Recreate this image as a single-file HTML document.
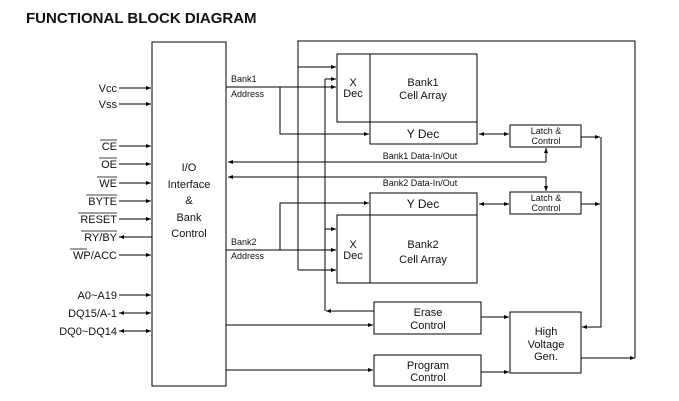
<!DOCTYPE html>
<html><head><style>
body{margin:0;background:#fff;width:679px;height:401px;overflow:hidden}
svg{display:block}
text{font-family:"Liberation Sans",Arial,sans-serif;fill:#111}
</style></head><body>
<svg width="679" height="401" viewBox="0 0 679 401" xmlns="http://www.w3.org/2000/svg">
<defs>
<marker id="a" viewBox="0 0 10 10" refX="10" refY="5" markerWidth="5" markerHeight="5" orient="auto-start-reverse"><path d="M0,1 L10,5 L0,9 z" fill="#000"/></marker>
</defs>
<text x="26" y="23" font-size="15" font-weight="bold">FUNCTIONAL BLOCK DIAGRAM</text>
<g fill="none" stroke="#000" stroke-width="1">
<rect x="152" y="42" width="74" height="344"/>
<rect x="337" y="54" width="33" height="68"/><rect x="370" y="54" width="107" height="68"/><rect x="370" y="122" width="107" height="22"/>
<rect x="370" y="193" width="107" height="22"/><rect x="337" y="215" width="33" height="68"/><rect x="370" y="215" width="107" height="68"/>
<rect x="510" y="125" width="71" height="22"/><rect x="510" y="192" width="71" height="22"/>
<rect x="374" y="302" width="107" height="32"/><rect x="374" y="355" width="107" height="31"/>
<rect x="510" y="312" width="71" height="61"/>
</g>
<g stroke="#000" stroke-width="1" fill="none" marker-end="url(#a)">
<line x1="119" y1="88" x2="151" y2="88"/><line x1="119" y1="104" x2="151" y2="104"/>
<line x1="119" y1="146" x2="151" y2="146"/><line x1="119" y1="164" x2="151" y2="164"/>
<line x1="119" y1="183" x2="151" y2="183"/><line x1="119" y1="201" x2="151" y2="201"/>
<line x1="119" y1="219" x2="151" y2="219"/><line x1="152" y1="237" x2="119" y2="237"/>
<line x1="119" y1="255" x2="151" y2="255"/><line x1="119" y1="295" x2="151" y2="295"/>
<line x1="119" y1="313" x2="151" y2="313" marker-start="url(#a)"/>
<line x1="119" y1="331" x2="151" y2="331" marker-start="url(#a)"/>
<line x1="226" y1="87" x2="336" y2="87"/>
<polyline points="280,87 280,134 369,134"/>
<line x1="298" y1="67" x2="336" y2="67"/>
<line x1="325" y1="79" x2="336" y2="79"/>
<line x1="479" y1="134" x2="509" y2="134" marker-start="url(#a)"/>
<line x1="581" y1="137" x2="600" y2="137"/>
<polyline points="546,162 228,162"/>
<line x1="546" y1="162" x2="546" y2="148"/>
<polyline points="228,177 546,177 546,191" marker-start="url(#a)"/>
<line x1="479" y1="204" x2="509" y2="204" marker-start="url(#a)"/>
<line x1="581" y1="204" x2="600" y2="204"/>
<line x1="226" y1="250" x2="336" y2="250"/>
<polyline points="280,250 280,203 369,203"/>
<line x1="325" y1="229" x2="336" y2="229"/>
<line x1="298" y1="270" x2="336" y2="270"/>
<line x1="374" y1="311" x2="326" y2="311"/>
<line x1="226" y1="325" x2="373" y2="325"/>
<line x1="226" y1="370" x2="373" y2="370"/>
<line x1="481" y1="317" x2="509" y2="317"/>
<line x1="481" y1="372" x2="509" y2="372"/>
<polyline points="601,137 601,327 582,327"/>
<polyline points="581,358 635,358"/>
</g>
<g stroke="#000" stroke-width="1" fill="none">
<polyline points="298,270 298,41 635,41 635,358"/>
<line x1="325" y1="79" x2="325" y2="311"/>
</g>
<g font-size="11" text-anchor="end">
<text x="117" y="92">Vcc</text><text x="117" y="108">Vss</text>
<text x="117" y="150">CE</text><text x="117" y="168">OE</text><text x="117" y="187">WE</text>
<text x="117" y="205">BYTE</text><text x="117" y="223">RESET</text><text x="117" y="241">RY/BY</text>
<text x="117" y="259">WP/ACC</text><text x="117" y="299">A0~A19</text><text x="117" y="317">DQ15/A-1</text><text x="117" y="335">DQ0~DQ14</text>
</g>
<g stroke="#000" stroke-width="0.8">
<line x1="100" y1="140" x2="117" y2="140"/><line x1="99" y1="158" x2="117" y2="158"/><line x1="97" y1="177" x2="117" y2="177"/>
<line x1="86" y1="195" x2="117" y2="195"/><line x1="78" y1="213" x2="117" y2="213"/><line x1="81" y1="231" x2="117" y2="231"/>
<line x1="70" y1="249" x2="87" y2="249"/>
</g>
<g font-size="11" text-anchor="middle">
<text x="189" y="171">I/O</text><text x="189" y="188">Interface</text><text x="189" y="204">&amp;</text><text x="189" y="221">Bank</text><text x="189" y="237">Control</text>
<text x="353" y="86">X</text><text x="353" y="97">Dec</text>
<text x="423" y="86">Bank1</text><text x="423" y="99">Cell Array</text>
<text x="423" y="138" font-size="12">Y Dec</text>
<text x="423" y="208" font-size="12">Y Dec</text>
<text x="353" y="248">X</text><text x="353" y="259">Dec</text>
<text x="423" y="248">Bank2</text><text x="423" y="263">Cell Array</text>
<text x="428" y="316">Erase</text><text x="428" y="329">Control</text>
<text x="428" y="369">Program</text><text x="428" y="381">Control</text>
<text x="546" y="335">High</text><text x="546" y="348">Voltage</text><text x="546" y="360">Gen.</text>
</g>
<g font-size="9" text-anchor="middle">
<text x="546" y="134">Latch &amp;</text><text x="546" y="144">Control</text>
<text x="546" y="201">Latch &amp;</text><text x="546" y="211">Control</text>
<text x="420" y="159">Bank1 Data-In/Out</text><text x="420" y="186">Bank2 Data-In/Out</text>
</g>
<g font-size="9">
<text x="231" y="82">Bank1</text><text x="231" y="97">Address</text>
<text x="231" y="245">Bank2</text><text x="231" y="259">Address</text>
</g>
</svg>
</body></html>
